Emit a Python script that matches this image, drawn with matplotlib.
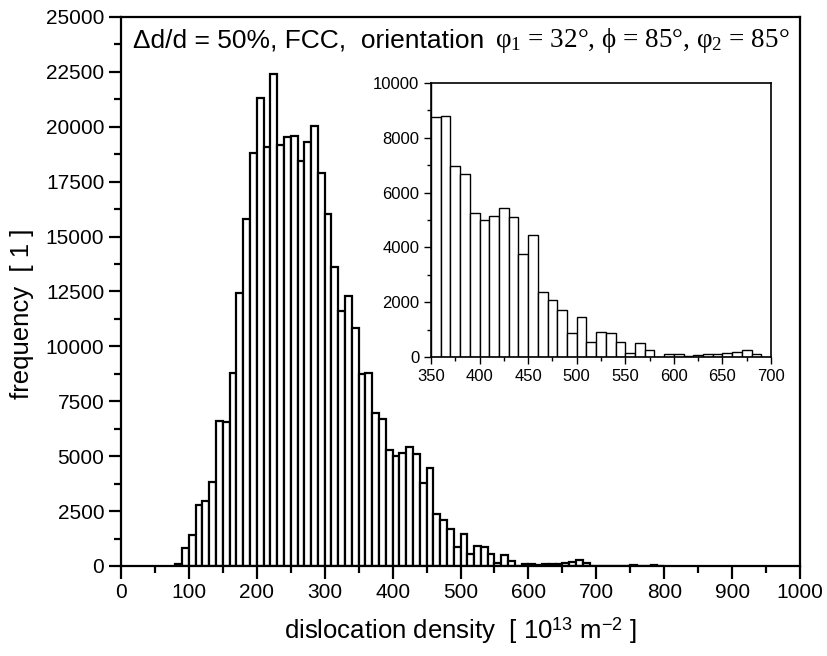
import numpy as np
import matplotlib
matplotlib.use("Agg")
import matplotlib.pyplot as plt
from matplotlib.ticker import MultipleLocator

plt.rcParams['font.family'] = ['Liberation Sans', 'DejaVu Sans']
plt.rcParams['mathtext.fontset'] = 'custom'
plt.rcParams['mathtext.rm'] = 'Liberation Serif'
plt.rcParams['mathtext.it'] = 'Liberation Serif:italic'
plt.rcParams['mathtext.sf'] = 'Liberation Sans'

# histogram bins (left edges, width 10) and counts
bin_left = np.arange(80, 800, 10)
counts = [100, 820, 1420, 2800, 2970, 3810, 6590, 6570, 8770, 12440,
          15820, 18800, 21300, 19100, 22400, 19190, 19530, 19600, 18430, 19300,
          20050, 17890, 16020, 13630, 11620, 12300, 10830, 8760, 8780, 6960,
          6690, 5260, 5010, 5130, 5440, 5100, 3770, 4440, 2380, 2090,
          1700, 880, 1460, 535, 900, 880, 560, 150, 510, 245,
          0, 100, 100, 50, 70, 110, 100, 145, 180, 270,
          120, 0, 0, 0, 0, 0, 0, 50, 0, 0,
          50, 0]
bin_width = 10

fig = plt.figure(figsize=(8.27, 6.56), dpi=100)
ax = fig.add_axes([0.1463, 0.1372, 0.8211, 0.8369])

ax.bar(bin_left, counts, width=bin_width, align='edge',
       facecolor='white', edgecolor='black', linewidth=1.6)
ax.set_xlim(0, 1000)
ax.set_ylim(0, 25000)
ax.xaxis.set_major_locator(MultipleLocator(100))
ax.xaxis.set_minor_locator(MultipleLocator(50))
ax.yaxis.set_major_locator(MultipleLocator(2500))
ax.yaxis.set_minor_locator(MultipleLocator(1250))
ax.tick_params(which='major', direction='out', length=9, width=1.6, labelsize=15, pad=3)
ax.tick_params(which='minor', direction='out', length=5, width=1.6)
for s in ax.spines.values():
    s.set_linewidth(1.6)

ax.set_xlabel(r"dislocation density  [ 10$^{\mathsf{13}}$ m$^{\mathsf{-2}}$ ]", fontsize=18.5, labelpad=10)
ax.set_ylabel("frequency  [ 1 ]", fontsize=18.5)
ax.yaxis.set_label_coords(-0.128, 0.46)

t1 = ax.text(0.018, 0.945, "\u0394d/d = 50%, FCC,  orientation", transform=ax.transAxes,
             fontsize=19, va='baseline', ha='left')
fig.canvas.draw()
bb = t1.get_window_extent().transformed(ax.transAxes.inverted())
ax.text(bb.x1 + 0.016, 0.945,
        r"$\mathrm{\varphi}_1$ = 32$\degree$, $\mathrm{\phi}$ = 85$\degree$, $\mathrm{\varphi}_2$ = 85$\degree$",
        transform=ax.transAxes, fontsize=19.5, va='baseline', ha='left',
        family='Liberation Serif')

# inset: zoom on the tail
ins = fig.add_axes([0.5212, 0.4558, 0.4111, 0.4177])
ins.bar(bin_left, counts, width=bin_width, align='edge',
        facecolor='white', edgecolor='black', linewidth=1.0)
ins.set_xlim(350, 700)
ins.set_ylim(0, 10000)
ins.xaxis.set_major_locator(MultipleLocator(50))
ins.xaxis.set_minor_locator(MultipleLocator(25))
ins.yaxis.set_major_locator(MultipleLocator(2000))
ins.yaxis.set_minor_locator(MultipleLocator(1000))
ins.tick_params(which='major', direction='out', length=5, width=1.0, labelsize=12)
ins.tick_params(which='minor', direction='out', length=3, width=1.0)
for s in ins.spines.values():
    s.set_linewidth(1.2)

fig.savefig("out.png", dpi=100)
